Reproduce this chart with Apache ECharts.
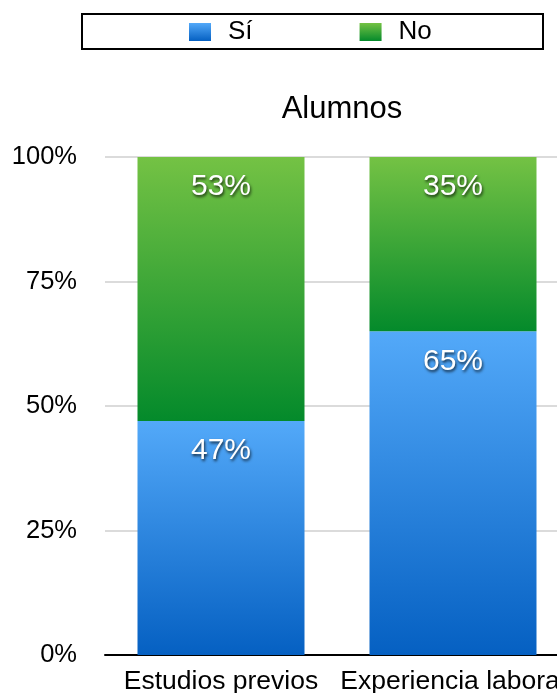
<!DOCTYPE html>
<html>
<head>
<meta charset="utf-8">
<script src="https://cdn.jsdelivr.net/npm/echarts@6/dist/echarts.min.js"></script>
<style>
  html, body { margin: 0; padding: 0; background: #fff; }
  #chart { width: 557px; height: 693px; }
</style>
</head>
<body>
<div id="chart"></div>
<script>
// Chart data
const categories = ['Estudios previos', 'Experiencia laboral'];
const seriesNames = ['Sí', 'No'];
const siValues = [47, 65];
const noValues = [53, 35];
const yTicks = [0, 25, 50, 75, 100];

const FONT = '"Liberation Sans", Arial, Helvetica, sans-serif';

function vGrad(top, bottom) {
  return new echarts.graphic.LinearGradient(0, 0, 0, 1, [
    { offset: 0, color: top },
    { offset: 1, color: bottom }
  ]);
}

const blue = vGrad('#53a9f9', '#0560c2');
const green = vGrad('#74c244', '#048a2b');

const labelStyle = {
  show: true,
  position: 'insideTop',
  distance: 15,
  formatter: '{c}%',
  color: '#fff',
  fontSize: 30,
  fontFamily: FONT,
  textShadowColor: 'rgba(0,0,0,0.75)',
  textShadowBlur: 3,
  textShadowOffsetX: 1,
  textShadowOffsetY: 2
};

const chart = echarts.init(document.getElementById('chart'), null, { renderer: 'canvas' });

chart.setOption({
  animation: false,
  backgroundColor: '#fff',
  title: {
    text: 'Alumnos',
    left: 337,
    textAlign: 'center',
    top: 89,
    textStyle: { fontFamily: FONT, fontSize: 31, fontWeight: 'normal', color: '#000' }
  },
  graphic: [{
    type: 'rect',
    shape: { x: 82, y: 14, width: 461, height: 35 },
    style: { fill: 'none', stroke: '#000', lineWidth: 2 },
    z: 10
  }],
  legend: {
    data: seriesNames,
    left: 189,
    top: 19,
    padding: 0,
    itemWidth: 22,
    itemHeight: 18,
    itemGap: 107,
    icon: 'rect',
    textStyle: { fontFamily: FONT, fontSize: 26, color: '#000', padding: [0, 0, 0, 12] }
  },
  // the plot runs past the right edge of the canvas, so the second label is cut
  grid: {
    left: 105, width: 464, top: 157, bottom: 38,
    containLabel: false,
    outerBoundsMode: 'none'
  },
  xAxis: {
    type: 'category',
    data: categories,
    axisLine: { show: true, lineStyle: { color: '#000', width: 2 } },
    axisTick: { show: false },
    axisLabel: { color: '#000', fontSize: 26.5, fontFamily: FONT, margin: 13, interval: 0, hideOverlap: false }
  },
  yAxis: {
    type: 'value',
    min: yTicks[0],
    max: yTicks[yTicks.length - 1],
    interval: yTicks[1] - yTicks[0],
    axisLine: { show: false },
    axisTick: { show: false },
    axisLabel: { color: '#000', fontSize: 25.5, fontFamily: FONT, margin: 28, formatter: '{value}%' },
    splitLine: { show: true, lineStyle: { color: '#cfcfcf', width: 1.5 } }
  },
  series: [
    {
      name: seriesNames[0],
      type: 'bar',
      stack: 'total',
      barWidth: 167,
      data: siValues,
      itemStyle: { color: blue },
      label: labelStyle
    },
    {
      name: seriesNames[1],
      type: 'bar',
      stack: 'total',
      barWidth: 167,
      data: noValues,
      itemStyle: { color: green },
      label: labelStyle
    }
  ]
});
</script>
</body>
</html>
